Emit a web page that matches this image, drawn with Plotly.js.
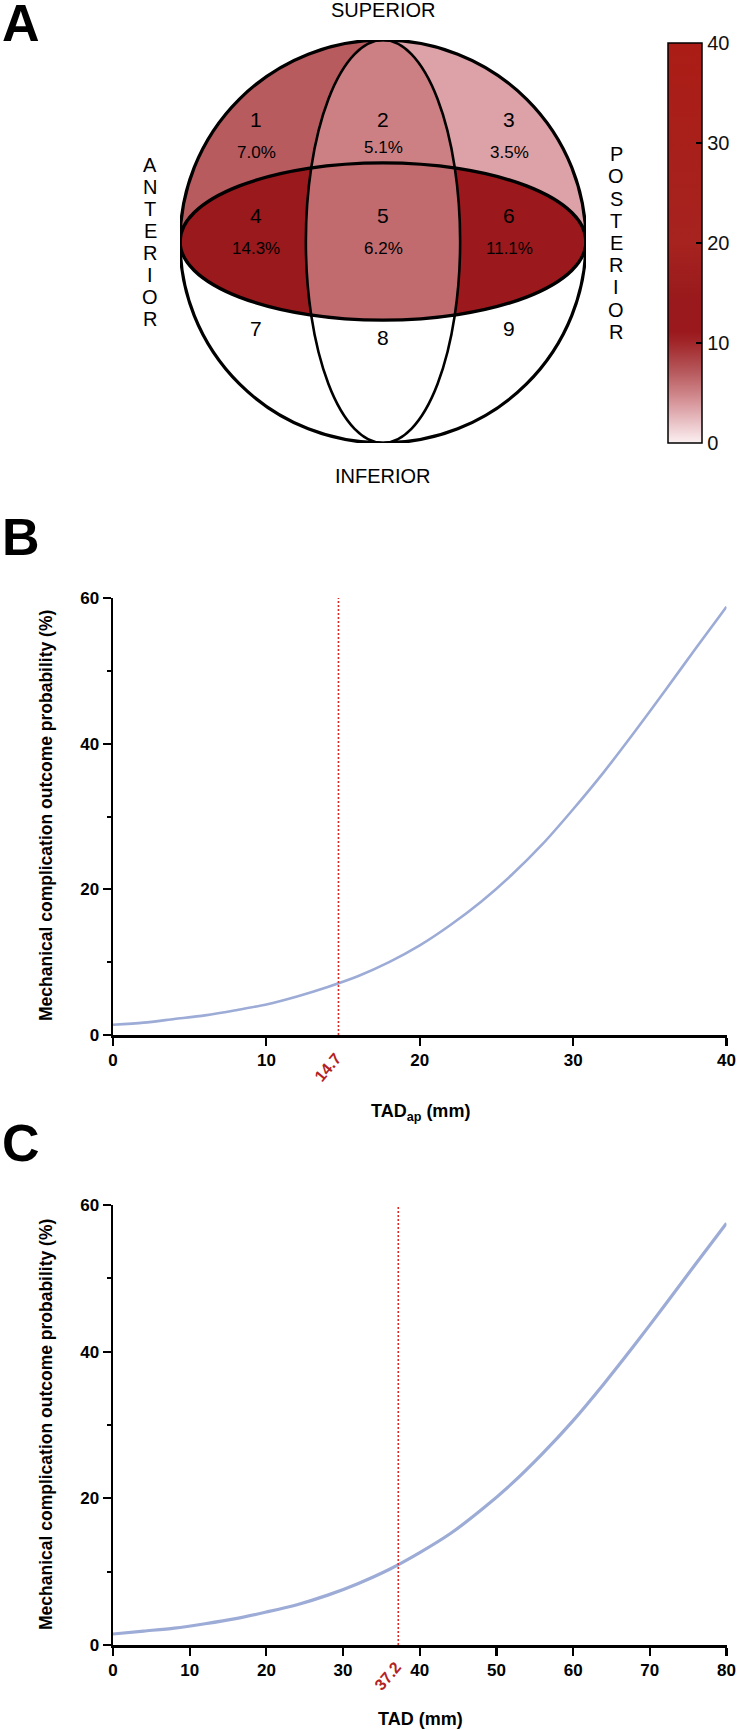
<!DOCTYPE html>
<html>
<head>
<meta charset="utf-8">
<script src="https://cdn.plot.ly/plotly-3.0.1.min.js"></script>
<style>
  html, body { margin: 0; padding: 0; background: #ffffff; }
  #chart { width: 738px; height: 1730px; }
</style>
</head>
<body>
<div id="chart"></div>
<script>
// ---------- Panel A: femoral-head zones (percent of mechanical complications) ----------
const zoneIds = [1, 2, 3, 4, 5, 6, 7, 8, 9];
const zonePct = [7.0, 5.1, 3.5, 14.3, 6.2, 11.1, null, null, null];
const colorbarTicks = [0, 10, 20, 30, 40];
const directionTop = 'SUPERIOR';
const directionBottom = 'INFERIOR';
const directionLeft = 'ANTERIOR';
const directionRight = 'POSTERIOR';

// ---------- Panel B: probability vs TADap ----------
const tadApMm = [0, 2, 4, 6, 8, 10, 12, 14, 16, 18, 20, 22, 24, 26, 28, 30, 32, 34, 36, 38, 40];
const probApPct = [1.4, 1.7, 2.2, 2.7, 3.4, 4.2, 5.3, 6.6, 8.1, 10.0, 12.3, 15.1, 18.3, 22.0, 26.2, 31.0, 36.1, 41.6, 47.3, 53.1, 58.8];
const tadApCutoff = 14.7;

// ---------- Panel C: probability vs TAD ----------
const tadMm = [0, 4, 8, 12, 16, 20, 24, 28, 32, 36, 40, 44, 48, 52, 56, 60, 64, 68, 72, 76, 80];
const probTadPct = [1.5, 1.9, 2.3, 2.9, 3.6, 4.5, 5.5, 6.8, 8.4, 10.3, 12.6, 15.2, 18.4, 22.0, 26.1, 30.6, 35.6, 40.9, 46.4, 52.0, 57.5];
const tadCutoff = 37.2;

const yTitle = 'Mechanical complication outcome probability (%)';

// ---------- page geometry (pixels) ----------
const W = 738, H = 1730;
const px = x => x / W;
const py = y => 1 - y / H;

const FONT = 'Liberation Sans, Arial, Helvetica, sans-serif';
const BLACK = '#000000';
const CURVE = '#9dacd6';
const CUT_LINE = '#de2a24';
const CUT_TEXT = '#b3221e';

// Zone diagram in unit coordinates: outer circle radius 1,
// equator ellipse (1 x EQ) and sagittal ellipse (MER x 1).
const EQ = 0.39;
const MER = 0.38;
const N = 420;
const grid = Array.from({length: N}, (_, i) => -1 + 2 * i / (N - 1));

function zoneIndex(u, v) {
  if (u * u + v * v > 1) return -1;
  const merHalf = MER * Math.sqrt(Math.max(0, 1 - v * v));
  const col = u < -merHalf ? 0 : (u > merHalf ? 2 : 1);
  const eqHalf = EQ * Math.sqrt(Math.max(0, 1 - u * u));
  const row = v > eqHalf ? 0 : (v < -eqHalf ? 2 : 1);
  return row * 3 + col;
}
const zGrid = grid.map(v => grid.map(u => {
  const k = zoneIndex(u, v);
  return k < 0 ? null : zonePct[k];
}));

// value -> colour, 0..40 %
const zoneScale = [
  [0.0,    '#fcf0f2'],
  [0.0875, '#dca2a7'],
  [0.1275, '#cc8084'],
  [0.155,  '#c16b6f'],
  [0.175,  '#b75b5f'],
  [0.25,   '#a1272a'],
  [0.2775, '#9b191d'],
  [0.3575, '#99191c'],
  [0.5,    '#a6231f'],
  [1.0,    '#ab1c16']
];

const traces = [];

traces.push({
  type: 'heatmap',
  x: grid, y: grid, z: zGrid,
  zmin: 0, zmax: 40,
  colorscale: zoneScale,
  zsmooth: false,
  hoverinfo: 'skip',
  xaxis: 'x', yaxis: 'y',
  colorbar: {
    x: px(668), xanchor: 'left', xref: 'paper',
    y: py(43), yanchor: 'top', yref: 'paper',
    len: 400, lenmode: 'pixels',
    thickness: 34, thicknessmode: 'pixels',
    xpad: 0, ypad: 0,
    outlinewidth: 1.5, outlinecolor: BLACK,
    tickmode: 'array', tickvals: colorbarTicks, ticktext: colorbarTicks.map(String),
    ticks: 'inside', ticklen: 6, tickwidth: 1.5, tickcolor: BLACK,
    tickfont: {family: FONT, size: 20, color: '#111111'}
  }
});

traces.push({
  type: 'scatter', mode: 'lines',
  x: tadApMm, y: probApPct,
  line: {color: CURVE, width: 2.6, shape: 'spline', smoothing: 0.8},
  hoverinfo: 'x+y',
  xaxis: 'x2', yaxis: 'y2'
});

traces.push({
  type: 'scatter', mode: 'lines',
  x: tadMm, y: probTadPct,
  line: {color: CURVE, width: 3.2, shape: 'spline', smoothing: 0.8},
  hoverinfo: 'x+y',
  xaxis: 'x3', yaxis: 'y3'
});

// ---------- shapes ----------
const shapes = [
  // sagittal ellipse
  {type: 'circle', xref: 'x', yref: 'y', x0: -MER, x1: MER, y0: -1, y1: 1,
   line: {color: BLACK, width: 2.6}, layer: 'above'},
  // equator ellipse
  {type: 'circle', xref: 'x', yref: 'y', x0: -1, x1: 1, y0: -EQ, y1: EQ,
   line: {color: BLACK, width: 3.4}, layer: 'above'},
  // outer circle
  {type: 'circle', xref: 'x', yref: 'y', x0: -1, x1: 1, y0: -1, y1: 1,
   line: {color: BLACK, width: 3.2}, layer: 'above'},
  // cut-off lines
  {type: 'line', xref: 'x2', yref: 'y2 domain', x0: tadApCutoff, x1: tadApCutoff, y0: 0, y1: 1,
   line: {color: CUT_LINE, width: 1.6, dash: '2px,2px'}},
  {type: 'line', xref: 'x3', yref: 'y3 domain', x0: tadCutoff, x1: tadCutoff, y0: 0, y1: 1,
   line: {color: CUT_LINE, width: 1.6, dash: '2px,2px'}}
];
// colour bar: matching ticks on the left edge
colorbarTicks.filter(v => v > 0 && v < 40).forEach(v => {
  const yy = 443 - v / 40 * 400;
  shapes.push({type: 'line', xref: 'paper', yref: 'paper',
    x0: px(668), x1: px(674), y0: py(yy), y1: py(yy),
    line: {color: BLACK, width: 1.5}});
});

// ---------- annotations ----------
const ann = [];
function label(text, x, y, size, opts) {
  ann.push(Object.assign({
    text: text, xref: 'paper', yref: 'paper', x: px(x), y: py(y),
    xanchor: 'center', yanchor: 'middle', showarrow: false,
    font: {family: FONT, size: size, color: BLACK}
  }, opts || {}));
}

// panel letters
const letterFont = {family: FONT, size: 52, color: BLACK, weight: 'bold'};
label('A', 0, 23, 52, {xanchor: 'left', font: letterFont});
label('B', 0, 537, 52, {xanchor: 'left', font: letterFont});
label('C', 0, 1143, 52, {xanchor: 'left', font: letterFont});

// orientation words
label(directionTop, 383, 10, 20);
label(directionBottom, 383, 476, 20);
directionLeft.split('').forEach((ch, i, arr) => {
  label(ch, 150, 242 + (i - (arr.length - 1) / 2) * 22, 20);
});
directionRight.split('').forEach((ch, i, arr) => {
  label(ch, 616, 243 + (i - (arr.length - 1) / 2) * 22.2, 20);
});

// zone numbers and percentages
const colX = [256, 383, 509];
const numY = [[120, 120, 120], [216, 216, 216], [329, 338, 329]];
const pctY = [[153, 148, 153], [249, 249, 249]];
zoneIds.forEach((id, k) => {
  const r = Math.floor(k / 3), c = k % 3;
  label(String(id), colX[c], numY[r][c], 21);
  if (zonePct[k] !== null) {
    label(zonePct[k].toFixed(1) + '%', colX[c], pctY[r][c], 17);
  }
});

// axis titles
const boldFont = (s) => ({family: FONT, size: s, color: BLACK, weight: 'bold'});
label(yTitle, 46, 816, 17.5, {textangle: -90, font: boldFont(17.5)});
label(yTitle, 46, 1425, 17.5, {textangle: -90, font: boldFont(17.5)});
label('TAD<sub>ap</sub> (mm)', 420, 1112, 18, {font: boldFont(18)});
label('TAD (mm)', 420, 1719, 18, {font: boldFont(18)});

// cut-off values on the x axes
ann.push({text: tadApCutoff.toFixed(1), xref: 'x2', yref: 'paper', x: tadApCutoff, y: py(1067),
  xshift: -11, xanchor: 'center', yanchor: 'middle', textangle: -50, showarrow: false,
  font: {family: FONT, size: 16, color: CUT_TEXT, weight: 'bold'}});
ann.push({text: tadCutoff.toFixed(1), xref: 'x3', yref: 'paper', x: tadCutoff, y: py(1676),
  xshift: -11, xanchor: 'center', yanchor: 'middle', textangle: -50, showarrow: false,
  font: {family: FONT, size: 16, color: CUT_TEXT, weight: 'bold'}});

// ---------- axes ----------
const hidden = {visible: false, fixedrange: true, showgrid: false, zeroline: false};
function plotAxis(extra) {
  return Object.assign({
    showline: true, linecolor: BLACK, linewidth: 2.5,
    ticks: 'outside', ticklen: 8, tickwidth: 2.2, tickcolor: BLACK,
    showgrid: false, zeroline: false, fixedrange: true,
    tickfont: {family: FONT, size: 17, color: BLACK, weight: 'bold'},
    automargin: false
  }, extra);
}

const layout = {
  width: W, height: H,
  margin: {l: 0, r: 0, t: 0, b: 0},
  paper_bgcolor: '#ffffff', plot_bgcolor: 'rgba(0,0,0,0)',
  showlegend: false,
  xaxis: Object.assign({domain: [px(180), px(586)], range: [-1, 1], anchor: 'y'}, hidden),
  yaxis: Object.assign({domain: [py(443), py(40)], range: [-1, 1], anchor: 'x'}, hidden),
  xaxis2: plotAxis({domain: [px(113), px(726.5)], range: [0, 40], dtick: 10, tick0: 0, anchor: 'y2'}),
  yaxis2: plotAxis({domain: [py(1035), py(598)], range: [0, 60], dtick: 20, tick0: 0, anchor: 'x2',
    minor: {dtick: 10, tick0: 0, ticks: 'outside', ticklen: 4, tickwidth: 2, tickcolor: BLACK, showgrid: false}}),
  xaxis3: plotAxis({domain: [px(113), px(726.5)], range: [0, 80], dtick: 10, tick0: 0, anchor: 'y3'}),
  yaxis3: plotAxis({domain: [py(1645), py(1205)], range: [0, 60], dtick: 20, tick0: 0, anchor: 'x3',
    minor: {dtick: 10, tick0: 0, ticks: 'outside', ticklen: 4, tickwidth: 2, tickcolor: BLACK, showgrid: false}}),
  shapes: shapes,
  annotations: ann
};

Plotly.newPlot('chart', traces, layout, {staticPlot: true, displayModeBar: false});
</script>
</body>
</html>
